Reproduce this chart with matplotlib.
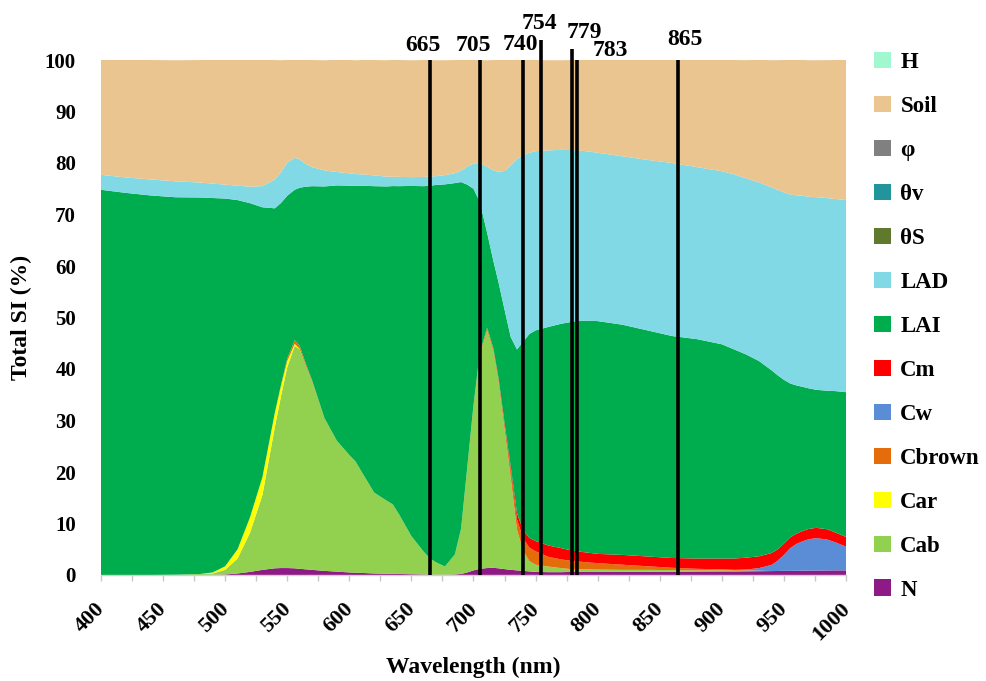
import numpy as np
import matplotlib
matplotlib.use("Agg")
import matplotlib.pyplot as plt
import matplotlib.transforms as mtransforms
from matplotlib.patches import Patch
from matplotlib.ticker import MultipleLocator

plt.rcParams["font.family"] = ["Liberation Serif", "DejaVu Serif"]
plt.rcParams["font.weight"] = "bold"

# Wavelength grid (nm)
wavelength = [400, 420, 440, 460, 480, 490, 500, 510, 520, 530, 540, 545, 550, 556,
              560, 565, 570, 580, 590, 600, 605, 610, 620, 630, 635, 640, 650, 660,
              665, 670, 677, 685, 690, 695, 700, 705, 711, 716, 720, 725, 730, 735,
              740, 745, 750, 760, 770, 780, 790, 800, 820, 840, 860, 880, 900, 910,
              920, 930, 940, 945, 950, 955, 960, 965, 970, 976, 985, 992, 1000]

# Total sensitivity index (%) of each parameter
N = [0, 0, 0, 0, 0, 0.05, 0.1, 0.3, 0.6, 1.0, 1.3, 1.35, 1.35, 1.3,
     1.2, 1.1, 1.0, 0.8, 0.65, 0.5, 0.45, 0.4, 0.3, 0.25, 0.22, 0.2, 0.15, 0.1,
     0.08, 0.05, 0.05, 0.1, 0.2, 0.5, 0.9, 1.2, 1.35, 1.4, 1.3, 1.15, 1.0, 0.9,
     0.8, 0.7, 0.6, 0.55, 0.55, 0.6, 0.6, 0.6, 0.62, 0.64, 0.65, 0.68, 0.7, 0.7,
     0.72, 0.74, 0.76, 0.78, 0.8, 0.8, 0.82, 0.84, 0.85, 0.86, 0.88, 0.9, 0.9]
Cab = [0, 0, 0, 0.05, 0.2, 0.25, 0.9, 2.9, 7.6, 14.5, 27.4, 33.4, 39.0, 43.2,
       42.6, 39.5, 36.6, 29.6, 25.4, 22.8, 21.6, 19.6, 15.7, 14.2, 13.5, 11.6, 7.4, 4.4,
       3.1, 2.4, 1.6, 3.9, 8.8, 20.4, 31.9, 41.4, 46.2, 42.1, 36.5, 27.2, 17.9, 7.9,
       3.9, 2.0, 1.4, 1.1, 0.8, 0.5, 0.5, 0.45, 0.38, 0.36, 0.3, 0.22, 0.2, 0.15,
       0.1, 0.05, 0, 0, 0, 0, 0, 0, 0, 0, 0, 0, 0]
Car = [0, 0, 0, 0, 0, 0.2, 0.7, 1.8, 3.0, 3.5, 2.8, 2.0, 1.2, 0.4,
       0.1, 0, 0, 0, 0, 0, 0, 0, 0, 0, 0, 0, 0, 0,
       0, 0, 0, 0, 0, 0, 0, 0, 0, 0, 0, 0, 0, 0,
       0, 0, 0, 0, 0, 0, 0, 0, 0, 0, 0, 0, 0, 0,
       0, 0, 0, 0, 0, 0, 0, 0, 0, 0, 0, 0, 0]
Cbrown = [0, 0, 0, 0, 0, 0, 0, 0, 0, 0, 0, 0.2, 0.5, 0.7,
          0.6, 0.4, 0.2, 0.05, 0, 0, 0, 0, 0, 0, 0, 0, 0, 0,
          0, 0, 0, 0, 0, 0.1, 0.2, 0.4, 0.5, 0.5, 0.6, 0.9, 1.4, 2.0,
          2.4, 2.6, 2.6, 1.9, 1.7, 1.6, 1.4, 1.25, 1.0, 0.7, 0.45, 0.3, 0.2, 0.15,
          0.1, 0.05, 0, 0, 0, 0, 0, 0, 0, 0, 0, 0, 0]
Cw = [0, 0, 0, 0, 0, 0, 0, 0, 0, 0, 0, 0, 0, 0,
      0, 0, 0, 0, 0, 0, 0, 0, 0, 0, 0, 0, 0, 0,
      0, 0, 0, 0, 0, 0, 0, 0, 0, 0, 0, 0, 0, 0,
      0, 0, 0, 0, 0, 0, 0, 0, 0, 0, 0, 0, 0, 0,
      0.15, 0.5, 1.2, 2.0, 3.1, 4.4, 5.2, 5.7, 6.1, 6.3, 6.0, 5.4, 4.6]
Cm = [0, 0, 0, 0, 0, 0, 0, 0, 0, 0, 0, 0, 0, 0,
      0, 0, 0, 0, 0, 0, 0, 0, 0, 0, 0, 0, 0, 0,
      0, 0, 0, 0, 0, 0, 0, 0, 0, 0, 0.1, 0.3, 0.7, 1.2,
      1.6, 1.9, 2.0, 2.2, 2.2, 2.0, 1.9, 1.8, 1.9, 1.9, 1.9, 2.0, 2.1, 2.2,
      2.3, 2.3, 2.3, 2.2, 2.2, 2.1, 2.0, 2.0, 2.0, 2.0, 2.0, 1.9, 1.9]
LAI = [74.8, 74.2, 73.7, 73.3, 73.1, 72.7, 71.4, 67.8, 61.0, 52.4, 39.7, 35.3, 31.6, 29.2,
       30.7, 34.4, 37.7, 45.0, 49.6, 52.3, 53.5, 55.6, 59.5, 61.0, 61.8, 63.7, 68.0, 71.0,
       72.4, 73.3, 74.2, 72.1, 67.3, 54.8, 42.0, 29.5, 18.4, 17.0, 18.5, 22.0, 25.2, 31.8,
       36.6, 39.6, 40.9, 42.4, 43.5, 44.5, 45.0, 45.2, 44.7, 43.9, 43.1, 42.6, 41.6, 40.6,
       39.4, 37.9, 35.5, 33.8, 31.8, 29.9, 28.8, 28.0, 27.3, 26.8, 26.9, 27.5, 28.1]
LAD = [2.9, 3.0, 3.1, 3.1, 2.9, 2.8, 2.7, 2.8, 3.2, 4.1, 5.6, 6.0, 6.4, 6.2,
       5.5, 4.4, 3.7, 3.1, 2.6, 2.4, 2.3, 2.2, 2.1, 1.9, 1.8, 1.8, 1.7, 1.8,
       1.8, 1.7, 1.8, 1.9, 2.2, 3.5, 4.9, 7.5, 12.8, 17.6, 21.3, 26.9, 33.3, 37.0,
       36.2, 35.2, 34.8, 34.3, 33.8, 33.3, 32.9, 32.7, 32.7, 33.1, 33.6, 33.4, 33.6, 34.0,
       34.2, 34.7, 35.5, 36.0, 36.4, 36.7, 36.9, 37.1, 37.2, 37.4, 37.4, 37.3, 37.3]
theta_s = [0.0] * len(wavelength)
theta_v = [0.0] * len(wavelength)
phi = [0.0] * len(wavelength)
Soil = [22.3, 22.8, 23.2, 23.5, 23.8, 24.0, 24.2, 24.4, 24.6, 24.5, 23.2, 21.7, 20.0, 19.0,
        19.3, 20.2, 20.8, 21.4, 21.8, 22.0, 22.1, 22.2, 22.4, 22.6, 22.7, 22.7, 22.7, 22.7,
        22.6, 22.5, 22.3, 22.0, 21.5, 20.7, 20.1, 20.0, 20.7, 21.4, 21.7, 21.6, 20.5, 19.2,
        18.5, 18.0, 17.7, 17.5, 17.4, 17.5, 17.7, 18.0, 18.7, 19.4, 20.0, 20.8, 21.6, 22.2,
        23.0, 23.8, 24.7, 25.2, 25.7, 26.1, 26.3, 26.4, 26.5, 26.6, 26.8, 27.0, 27.2]
H = [0.0] * len(wavelength)

series_names = ["N", "Cab", "Car", "Cbrown", "Cw", "Cm", "LAI", "LAD",
                "\u03b8S", "\u03b8v", "\u03c6", "Soil", "H"]
series_values = [N, Cab, Car, Cbrown, Cw, Cm, LAI, LAD, theta_s, theta_v, phi, Soil, H]
series_colors = ["#8E1A85", "#92D050", "#FFFF00", "#E46C0A", "#5B8DD6", "#FF0000",
                 "#00AD4E", "#80D9E4", "#5F7A2F", "#21959B", "#808080", "#EBC590", "#A0F7D0"]

# Selected bands marked on the spectrum
bands = [665, 705, 740, 754, 779, 783, 865]
band_line_top = [100, 100, 100, 103.9, 102.1, 100, 100]
band_label_dx = [-5.6, -5.0, -2.5, -1.0, 10.0, 27.0, 5.0]
band_label_y = [102.8, 102.8, 103.0, 107.1, 105.3, 101.9, 104.0]

fig = plt.figure(figsize=(9.87, 6.81), dpi=100)
ax = fig.add_axes([101 / 987, 1 - 575 / 681, (846 - 101) / 987, 515 / 681])

ax.stackplot(wavelength, *series_values, colors=series_colors, linewidth=0)

for b, top, dx, ly in zip(bands, band_line_top, band_label_dx, band_label_y):
    ax.plot([b, b], [0, top], color="black", lw=2.6, clip_on=False, zorder=5,
            solid_capstyle="butt")
    ax.text(b + dx, ly, str(b), ha="center", va="center", fontsize=17,
            fontweight="bold", clip_on=False)

ax.set_xlim(400, 1000)
ax.set_ylim(0, 100)
ax.xaxis.set_major_locator(MultipleLocator(50))
ax.xaxis.set_minor_locator(MultipleLocator(25))
ax.yaxis.set_major_locator(MultipleLocator(10))

for side in ("left", "right", "top"):
    ax.spines[side].set_visible(False)
ax.spines["bottom"].set_color("#D0D0D0")
ax.spines["bottom"].set_linewidth(1.0)

ax.tick_params(axis="y", length=0, pad=18, labelsize=15)
ax.tick_params(axis="x", which="both", direction="out", length=4, color="#C8C8C8",
               width=1.0, labelsize=16, pad=13)
shift = mtransforms.ScaledTranslation(8 / 100, 0, fig.dpi_scale_trans)
for lbl in ax.get_xticklabels():
    lbl.set_rotation(45)
    lbl.set_ha("right")
    lbl.set_va("top")
    lbl.set_transform(lbl.get_transform() + shift)

ax.set_ylabel("Total SI (%)", fontsize=17, fontweight="bold")
ax.yaxis.set_label_coords(-0.093, 0.5)
ax.set_xlabel("Wavelength (nm)", fontsize=17, fontweight="bold")
ax.xaxis.set_label_coords(0.5, -0.158)

handles = [Patch(facecolor=c, edgecolor="none") for c in series_colors[::-1]]
fig.legend(handles, series_names[::-1], loc="upper left",
           bbox_to_anchor=(874 / 987, 1 - 52 / 681), frameon=False,
           handlelength=0.75, handleheight=0.7, handletextpad=0.4,
           labelspacing=1.0, borderpad=0, borderaxespad=0,
           prop={"weight": "bold", "size": 16.5})

fig.savefig("out.png", dpi=100)
